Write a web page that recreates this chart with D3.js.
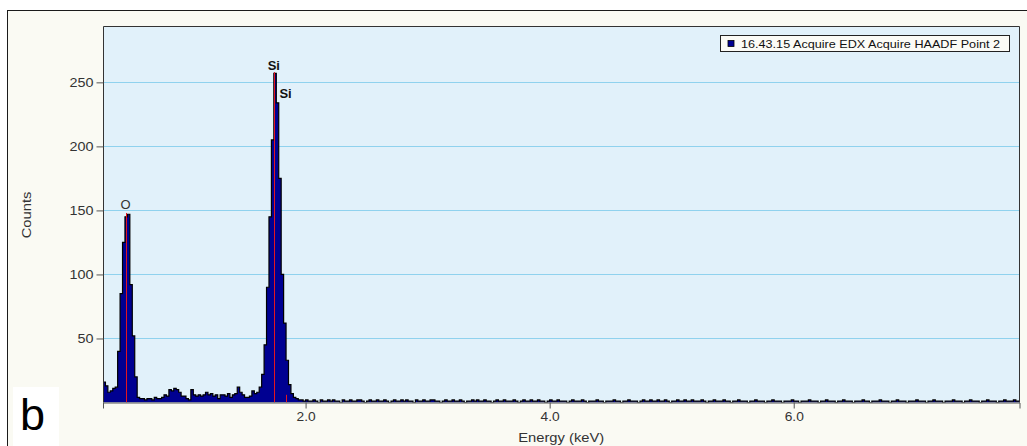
<!DOCTYPE html>
<html><head><meta charset="utf-8">
<script src="https://cdn.jsdelivr.net/npm/d3@7"></script>
<style>
html,body{margin:0;padding:0;background:#ffffff;}
svg{display:block;}
text{font-family:"Liberation Sans",Arial,sans-serif;}
</style></head>
<body>
<svg id="chart" width="1027" height="446"></svg>
<script>
// ---- data ----
const startEnergy = 0.34;      // keV, left edge of first channel
const channelWidth = 0.02;     // keV per channel
const counts = [
16,13,8,9,11,12,40,85,125,145,147,92,52,20,
4,3,3,2,3,3,2,4,3,3,4,6,5,10,9,11,10,8,5,5,3,2,10,6,5,6,5,6,8,6,7,5,6,3,6,6,5,7,4,6,7,12,8,6,4,4,5,9,7,8,
12,22,45,90,145,205,257,234,175,100,62,33,14,7,4,
3,2,2,1,2,1,1,2,1,0,2,1,1,2,1,2,1,1,0,2,1,
1,2,1,1,2,2,1,0,1,2,1,1,2,1,1,2,1,0,1,2,
1,1,2,1,2,1,1,0,2,1,1,2,1,1,2,2,1,1,0,1,
2,1,1,2,1,1,2,1,0,1,1,2,1,2,1,1,2,1,1,0,
1,2,1,1,2,1,1,1,2,1,0,1,2,1,1,2,1,1,2,1,
1,0,1,2,1,1,2,1,1,1,0,1,2,1,1,1,2,1,0,1,
1,1,2,1,1,0,1,1,1,2,1,1,0,1,1,2,1,1,1,0,
1,2,1,1,2,1,1,2,1,1,2,1,0,1,1,2,1,1,2,1,
1,2,1,1,1,2,1,0,1,1,2,1,1,1,2,1,1,0,1,1,
2,1,1,1,0,1,1,2,1,1,1,0,1,1,2,1,1,1,0,1,
1,1,2,1,1,0,1,1,1,2,1,1,1,0,1,1,2,1,1,1,
0,1,1,2,1,1,1,0,1,1,1,2,1,1,0,1,1,1,2,1,
1,1,0,1,1,2,1,1,1,0,1,1,1,2,1,1,1,0,1,1,
2,1,1,1,0,1,1,1,2,1,1,1,0,1,1,2,1,1,1,0,
1,1,2,1,1,1,0,1,1,2,1,1,1,2,1,1
];
const elementNames = ["O", "Si", "Si"];
const elementEnergies = [0.525, 1.740, 1.836];
const elementLineCounts = [148, 258, 6];
const elementLabelCounts = [151, 260, 238];
const elementLabelBold = [false, true, true];
const xDomain = [0.34, 7.85];
const yDomain = [0, 294];
const xTicks = [2, 4, 6];
const yTicks = [50, 100, 150, 200, 250];
const legendLabel = "16.43.15 Acquire EDX Acquire HAADF Point 2";
const xTitle = "Energy (keV)";
const yTitle = "Counts";
const panelLetter = "b";

// ---- layout ----
const svg = d3.select("#chart");
const L = 103, R = 1019.5, T = 26, B = 402.5;
const x = d3.scaleLinear().domain(xDomain).range([L, R]);
const y = d3.scaleLinear().domain(yDomain).range([B, T]);

function stretch(sel, f){
  sel.each(function(){
    const w = this.getComputedTextLength();
    d3.select(this).attr("textLength", w * f).attr("lengthAdjust", "spacingAndGlyphs");
  });
}

// outer frame
svg.append("rect").attr("x", 7.5).attr("y", 10.5).attr("width", 1040).attr("height", 460)
  .attr("fill", "#fafaf3").attr("stroke", "#1a1a1a").attr("stroke-width", 1);

// plot background
svg.append("rect").attr("x", L).attr("y", T).attr("width", R - L).attr("height", B - T)
  .attr("fill", "#e1f1fa");

// gridlines
svg.append("g").selectAll("line").data(yTicks).join("line")
  .attr("x1", L).attr("x2", R)
  .attr("y1", d => Math.round(y(d)) + 0.5).attr("y2", d => Math.round(y(d)) + 0.5)
  .attr("stroke", "#8fd2ee").attr("stroke-width", 1);

// spectrum
const pts = counts.map((c, i) => [startEnergy + i * channelWidth, c]);
pts.push([startEnergy + counts.length * channelWidth, counts[counts.length - 1]]);
const defs = svg.append("defs");
defs.append("clipPath").attr("id", "clip").append("rect")
  .attr("x", L).attr("y", T).attr("width", R - L).attr("height", B - T);
const g = svg.append("g").attr("clip-path", "url(#clip)");
g.append("path").datum(pts)
  .attr("d", d3.area().x(d => x(d[0])).y0(y(0)).y1(d => y(d[1])).curve(d3.curveStepAfter))
  .attr("fill", "#000091");
g.append("path").datum(pts)
  .attr("d", d3.line().x(d => x(d[0])).y(d => y(d[1])).curve(d3.curveStepAfter))
  .attr("fill", "none").attr("stroke", "#000000").attr("stroke-width", 1.2);

// element marker lines
g.selectAll("line.el").data(elementEnergies).join("line").attr("class", "el")
  .attr("x1", d => Math.round(x(d)) + 0.5).attr("x2", d => Math.round(x(d)) + 0.5)
  .attr("y1", y(0)).attr("y2", (d, i) => y(elementLineCounts[i]))
  .attr("stroke", "#e3151f").attr("stroke-width", 1);

// element labels
svg.append("g").selectAll("text").data(elementNames).join("text")
  .attr("x", (d, i) => x(elementEnergies[i]))
  .attr("y", (d, i) => y(elementLabelCounts[i]))
  .attr("text-anchor", "middle")
  .attr("font-size", 13)
  .attr("font-weight", (d, i) => elementLabelBold[i] ? "bold" : "normal")
  .attr("fill", (d, i) => elementLabelBold[i] ? "#111" : "#333")
  .text(d => d);

// plot border (left, top, right)
svg.append("path")
  .attr("d", `M${L + 0.5},${B} V${T + 0.5} H${R} V${B}`)
  .attr("fill", "none").attr("stroke", "#333").attr("stroke-width", 1);

// axes
const yAxis = svg.append("g").attr("transform", `translate(${L + 0.5},0)`)
  .call(d3.axisLeft(y).tickValues(yTicks).tickSize(7).tickPadding(3).tickFormat(d3.format("d")));
const xAxis = svg.append("g").attr("transform", `translate(0,${B})`)
  .call(d3.axisBottom(x).tickValues(xTicks).tickSize(6).tickPadding(4).tickFormat(d3.format(".1f")));
[yAxis, xAxis].forEach(a => {
  a.select(".domain").attr("stroke", "#555");
  a.selectAll(".tick line").attr("stroke", "#555");
  a.selectAll(".tick text").attr("font-family", "Liberation Sans, Arial, sans-serif")
    .attr("font-size", 12.5).attr("fill", "#333");
});
yAxis.select(".domain").remove();
stretch(yAxis.selectAll(".tick text"), 1.15);
stretch(xAxis.selectAll(".tick text"), 1.1);

// axis titles
const xt = svg.append("text").attr("x", (L + R) / 2).attr("y", 442).attr("text-anchor", "middle")
  .attr("font-size", 12.5).attr("fill", "#333").text(xTitle);
stretch(xt, 1.18);
const yt = svg.append("text").attr("transform", "translate(31,215) rotate(-90)")
  .attr("text-anchor", "middle").attr("font-size", 12.5).attr("fill", "#333").text(yTitle);
stretch(yt, 1.18);

// legend
const lg = svg.append("g");
lg.append("rect").attr("x", 720.5).attr("y", 35.5).attr("width", 289).attr("height", 16)
  .attr("fill", "#fbfbf6").attr("stroke", "#222");
lg.append("rect").attr("x", 728).attr("y", 40.5).attr("width", 6).attr("height", 6)
  .attr("fill", "#000091").attr("stroke", "#000").attr("stroke-width", 0.8);
const lt = lg.append("text").attr("x", 741).attr("y", 48).attr("font-size", 11)
  .attr("fill", "#111").text(legendLabel);
lt.attr("textLength", 259).attr("lengthAdjust", "spacingAndGlyphs");

// panel letter
svg.append("rect").attr("x", 13).attr("y", 387).attr("width", 46).attr("height", 70).attr("fill", "#ffffff");
svg.append("text").attr("x", 20).attr("y", 430).attr("font-size", 45).attr("fill", "#000").text(panelLetter);
</script>
</body></html>
